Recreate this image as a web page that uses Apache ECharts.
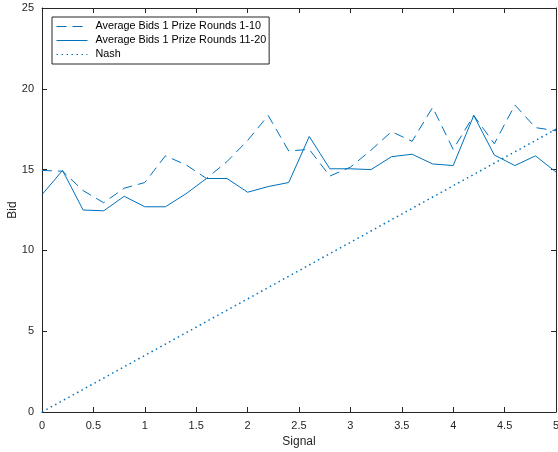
<!DOCTYPE html>
<html>
<head>
<meta charset="utf-8">
<script src="https://cdn.jsdelivr.net/npm/echarts@6/dist/echarts.min.js"></script>
<style>
  html, body { margin: 0; padding: 0; background: #fff; }
  #chart { width: 558px; height: 452px; }
</style>
</head>
<body>
<div id="chart"></div>
<script>
// Signal levels (x) shared by both bid series
const signals = [0, 0.2, 0.4, 0.6, 0.8, 1.0, 1.2, 1.4, 1.6, 1.8, 2.0, 2.2, 2.4,
                 2.6, 2.8, 3.0, 3.2, 3.4, 3.6, 3.8, 4.0, 4.2, 4.4, 4.6, 4.8, 5.0];

// Average bids, rounds 1-10
const bidsEarly = [14.95, 14.9, 13.7, 12.95, 13.85, 14.2, 15.85, 15.3, 14.45, 15.5, 16.8, 18.35, 16.15,
                   16.25, 14.6, 15.15, 16.2, 17.35, 16.75, 18.85, 16.25, 18.35, 16.6, 19.0, 17.6, 17.4];

// Average bids, rounds 11-20
const bidsLate = [13.45, 14.95, 12.5, 12.45, 13.35, 12.7, 12.7, 13.5, 14.45, 14.45, 13.6, 13.95, 14.2,
                  17.05, 15.05, 15.05, 15.0, 15.8, 15.95, 15.35, 15.25, 18.35, 15.9, 15.25, 15.85, 14.85];

// Nash equilibrium bid
const nashSignals = [0, 5];
const nashBids = [0, 17.5];

const xTicks = { min: 0, max: 5, interval: 0.5 };
const yTicks = { min: 0, max: 25, interval: 5 };

const seriesNames = [
  'Average Bids 1 Prize Rounds 1-10',
  'Average Bids 1 Prize Rounds 11-20',
  'Nash'
];

const blue = '#0072BD';
const axisColor = '#262626';
const font = 'Liberation Sans, Arial, Helvetica, sans-serif';

const pairs = (xs, ys) => xs.map((x, i) => [x, ys[i]]);

const chart = echarts.init(document.getElementById('chart'), null, { renderer: 'canvas' });

const baseAxis = {
  axisLine: { show: true, onZero: false, lineStyle: { color: axisColor, width: 1 } },
  axisTick: { show: true, inside: true, length: 5, lineStyle: { color: axisColor, width: 1 } },
  splitLine: { show: false },
  nameMoveOverlap: false,
  nameTextStyle: { color: axisColor, fontFamily: font, fontSize: 12 },
  axisLabel: { color: axisColor, fontFamily: font, fontSize: 11 }
};

chart.setOption({
  animation: false,
  backgroundColor: '#fff',
  grid: { left: 42, right: 2, top: 8, bottom: 40, containLabel: false, outerBoundsMode: 'none' },
  legend: {
    orient: 'vertical',
    left: 52,
    top: 17,
    padding: [4, 3, 4, 4],
    itemGap: 3,
    itemWidth: 31,
    itemHeight: 11,
    borderColor: axisColor,
    borderWidth: 1,
    backgroundColor: '#fff',
    itemStyle: { opacity: 0 },
    lineStyle: { width: 1 },
    textStyle: { color: '#000', fontFamily: font, fontSize: 10.8, padding: [0, 0, 0, 3] },
    data: seriesNames
  },
  xAxis: [
    Object.assign({}, baseAxis, {
      type: 'value', position: 'bottom', min: xTicks.min, max: xTicks.max, interval: xTicks.interval,
      name: 'Signal', nameLocation: 'middle', nameGap: 24,
      axisLabel: Object.assign({}, baseAxis.axisLabel, { margin: 8 })
    }),
    Object.assign({}, baseAxis, {
      type: 'value', position: 'top', min: xTicks.min, max: xTicks.max, interval: xTicks.interval,
      axisLabel: { show: false }
    })
  ],
  yAxis: [
    Object.assign({}, baseAxis, {
      type: 'value', position: 'left', min: yTicks.min, max: yTicks.max, interval: yTicks.interval,
      name: 'Bid', nameLocation: 'middle', nameGap: 23, nameRotate: 90,
      axisLabel: Object.assign({}, baseAxis.axisLabel, { margin: 8 })
    }),
    Object.assign({}, baseAxis, {
      type: 'value', position: 'right', min: yTicks.min, max: yTicks.max, interval: yTicks.interval,
      axisLabel: { show: false }
    })
  ],
  series: [
    {
      name: seriesNames[0], type: 'line', symbol: 'none', xAxisIndex: 0, yAxisIndex: 0,
      data: pairs(signals, bidsEarly),
      lineStyle: { color: blue, width: 1, type: [10, 6] },
      itemStyle: { color: blue }
    },
    {
      name: seriesNames[1], type: 'line', symbol: 'none', xAxisIndex: 0, yAxisIndex: 0,
      data: pairs(signals, bidsLate),
      lineStyle: { color: blue, width: 1, type: 'solid' },
      itemStyle: { color: blue }
    },
    {
      name: seriesNames[2], type: 'line', symbol: 'none', xAxisIndex: 0, yAxisIndex: 0,
      data: pairs(nashSignals, nashBids),
      lineStyle: { color: blue, width: 1.5, type: [1.5, 3.5] },
      itemStyle: { color: blue }
    }
  ]
});
</script>
</body>
</html>
